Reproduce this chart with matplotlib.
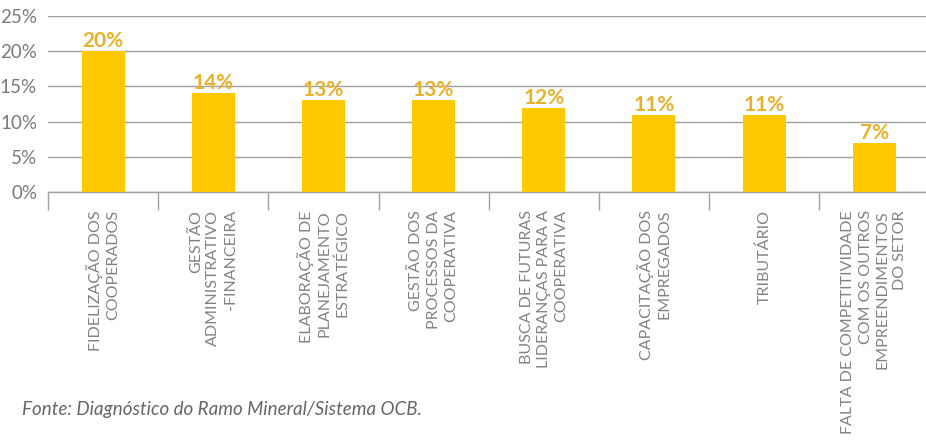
import matplotlib
matplotlib.use("Agg")
import matplotlib.pyplot as plt
from matplotlib.ticker import FixedLocator

plt.rcParams['font.family'] = ['Lato', 'DejaVu Sans']

categories = [
    "FIDELIZAÇÃO DOS\nCOOPERADOS",
    "GESTÃO\nADMINISTRATIVO\n-FINANCEIRA",
    "ELABORAÇÃO DE\nPLANEJAMENTO\nESTRATÉGICO",
    "GESTÃO DOS\nPROCESSOS DA\nCOOPERATIVA",
    "BUSCA DE FUTURAS\nLIDERANÇAS PARA A\nCOOPERATIVA",
    "CAPACITAÇÃO DOS\nEMPREGADOS",
    "TRIBUTÁRIO",
    "FALTA DE COMPETITIVIDADE\nCOM OS OUTROS\nEMPREENDIMENTOS\nDO SETOR",
]
values = [20, 14, 13, 13, 12, 11, 11, 7]
value_labels = ["20%", "14%", "13%", "13%", "12%", "11%", "11%", "7%"]
y_ticks = [0, 5, 10, 15, 20, 25]
y_tick_labels = ["0%", "5%", "10%", "15%", "20%", "25%"]
source_note = "Fonte: Diagnóstico do Ramo Mineral/Sistema OCB."

BAR = "#FFC900"
LABEL = "#E8B12C"
GRID = "#A0A0A0"
TEXT = "#7A7A7A"

fig = plt.figure(figsize=(9.26, 4.43), dpi=100)
ax = fig.add_axes([0.052, 1 - 192 / 443, 0.948, (192 - 16) / 443])

x = list(range(len(categories)))
ax.bar(x, values, width=0.39, color=BAR, zorder=3)

for xi, v, lab in zip(x, values, value_labels):
    ax.annotate(lab, (xi, v), xytext=(0, 0), textcoords="offset points",
                ha="center", va="bottom", fontsize=15, fontweight="bold",
                color=LABEL, zorder=4)

ax.set_xlim(-0.5, 7.47)
ax.set_ylim(0, 25)
ax.set_yticks(y_ticks)
ax.set_yticklabels(y_tick_labels)
ax.yaxis.grid(True, color=GRID, linewidth=1.0, zorder=0)
ax.tick_params(axis="y", length=0, pad=8, labelsize=13.5, labelcolor=TEXT)

for s in ["top", "right", "left"]:
    ax.spines[s].set_visible(False)
ax.spines["bottom"].set_color(GRID)
ax.spines["bottom"].set_linewidth(1.0)

# separator ticks between categories
ax.xaxis.set_major_locator(FixedLocator([i - 0.5 for i in range(len(categories))]))
ax.xaxis.set_major_formatter(plt.NullFormatter())
ax.tick_params(axis="x", which="major", length=13, width=1.0, color=GRID, direction="out")

ax.xaxis.set_minor_locator(FixedLocator(x))
ax.set_xticklabels(categories, minor=True)
ax.tick_params(axis="x", which="minor", length=0, pad=13, labelsize=11.5,
               labelcolor="#838383", labelrotation=90)
for t in ax.get_xticklabels(minor=True):
    t.set_multialignment("right")
    t.set_linespacing(1.3)
    t.set_verticalalignment("top")
    t.set_horizontalalignment("center")

fig.text(22 / 926, 1 - 410 / 443, source_note, fontsize=13.5, style="italic",
         color="#666666", ha="left", va="center")

fig.savefig("out.png", dpi=100)
